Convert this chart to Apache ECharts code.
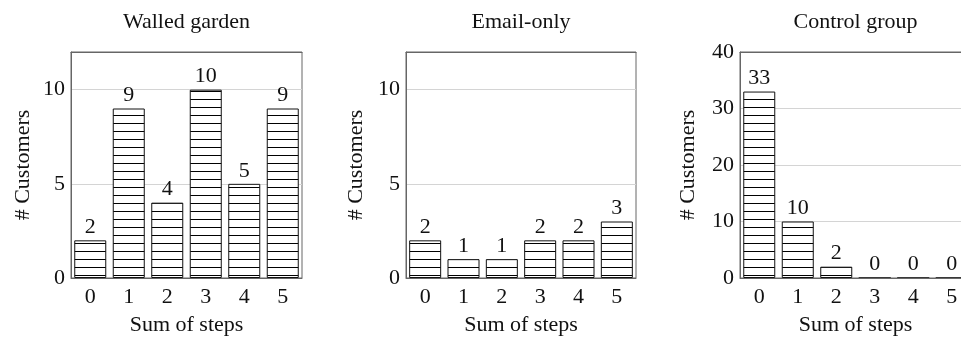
<!DOCTYPE html>
<html><head><meta charset="utf-8">
<script src="https://cdn.jsdelivr.net/npm/echarts@6/dist/echarts.min.js"></script>
<style>html,body{margin:0;padding:0;background:#fff;overflow:hidden}#c{width:1000px;height:341px}</style>
</head><body><div id="c"></div>
<script>
const categories = ['0','1','2','3','4','5'];
const titles = ['Walled garden','Email-only','Control group'];
const walledGarden = [2,9,4,10,5,9];
const emailOnly = [2,1,1,2,2,3];
const controlGroup = [33,10,2,0,0,0];
const yMax = [12,12,40];
const yInterval = [5,5,10];

const FONT = 'Liberation Serif';
const FS = 22;

function hatch(){
  const c=document.createElement('canvas'); c.width=8; c.height=8;
  const ctx=c.getContext('2d');
  ctx.fillStyle='#fff'; ctx.fillRect(0,0,8,8);
  ctx.fillStyle='#000'; ctx.fillRect(0,3,8,1);
  return c;
}
const pat = {image: hatch(), repeat: 'repeat'};

const grids = [
  {left:71, top:52, width:231, height:231},
  {left:406, top:52, width:230, height:231},
  {left:740, top:52, width:231, height:231}
];
const yGaps = [37, 39, 41];
const seriesData = [walledGarden, emailOnly, controlGroup];
const txt = {fontFamily: FONT, fontSize: FS, color:'#111'};

const option = {
  animation:false,
  grid: grids.map(g=>Object.assign({show:true, borderColor:'#666', borderWidth:1, containLabel:false}, g)),
  xAxis: [].concat(...grids.map((g,i)=>[
    {type:'category', gridIndex:i, data:categories, position:'bottom', z:5,
     name:'Sum of steps', nameLocation:'middle', nameGap:36, nameTextStyle:txt,
     axisLine:{lineStyle:{color:'#666'}},
     axisTick:{inside:true, alignWithLabel:true, length:5, lineStyle:{color:'#888'}},
     axisLabel:Object.assign({margin:8}, txt)},
    {type:'category', gridIndex:i, data:categories, position:'top', z:5,
     name:titles[i], nameLocation:'middle', nameGap:19, nameTextStyle:txt,
     axisLine:{lineStyle:{color:'#666'}},
     axisTick:{inside:true, alignWithLabel:true, length:5, lineStyle:{color:'#888'}},
     axisLabel:{show:false}}
  ])),
  yAxis: grids.map((g,i)=>({
    type:'value', gridIndex:i, min:0, max:yMax[i], interval:yInterval[i],
    name:'# Customers', nameLocation:'middle', nameGap:yGaps[i], nameRotate:90, nameTextStyle:txt,
    axisLine:{show:true, lineStyle:{color:'#666'}},
    axisTick:{show:false},
    splitLine:{show:true, lineStyle:{color:'#d4d4d4'}},
    axisLabel:Object.assign({margin:6, showMaxLabel: yMax[i]===40}, txt)
  })),
  series: seriesData.map((d,i)=>({
    type:'bar', xAxisIndex:i*2, yAxisIndex:i, data:d, barWidth:32,
    itemStyle:{color:pat, borderColor:'#111', borderWidth:1},
    label:Object.assign({show:true, position:'top', distance:2}, txt)
  }))
};
const chart = echarts.init(document.getElementById('c'), null, {renderer:'canvas'});
chart.setOption(option);
</script></body></html>
